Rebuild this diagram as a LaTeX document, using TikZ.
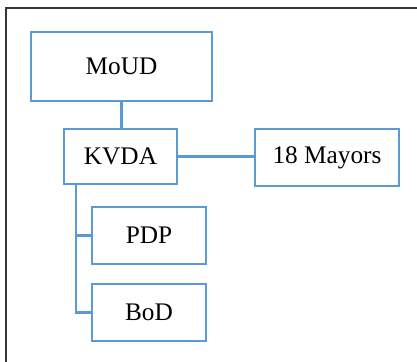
\documentclass[tikz,border=0pt]{standalone}
\usepackage{fontspec}
\setmainfont{Liberation Serif}
\usepackage{xcolor}
\usetikzlibrary{positioning}
\definecolor{boxblue}{RGB}{91,155,213}
\definecolor{framegray}{RGB}{55,55,55}

\begin{document}
\begin{tikzpicture}[x=0.025cm, y=-0.025cm,
    orgbox/.style={draw=boxblue, line width=2pt, fill=white, inner sep=0pt,
      font=\fontsize{18}{21}\selectfont},
    link/.style={draw=boxblue, line width=2pt}]
    \useasboundingbox (0,0) rectangle (417,362);
    % frame of the figure
    \draw[framegray, line width=1.5pt] (417,8) -- (6,8) -- (6,362);
    % boxes
    \node[orgbox, minimum width=4.525cm, minimum height=1.725cm] (moud) at (121.5,66.5) {MoUD};
    \node[orgbox, minimum width=2.825cm, minimum height=1.375cm] (kvda) at (120.5,156.5) {KVDA};
    \node[orgbox, minimum width=3.6cm, minimum height=1.425cm] (mayors) at (327,157.5) {18 Mayors};
    \node[orgbox, minimum width=2.85cm, minimum height=1.425cm] (pdp) at (149,235.5) {PDP};
    \node[orgbox, minimum width=2.85cm, minimum height=1.425cm] (bod) at (149,312.5) {BoD};
    \coordinate (trunk) at (76,184);
    % links
    \draw[link] (moud) -- (moud.south |- kvda.north);
    \draw[link] (kvda.east) -- (kvda.east -| mayors.west);
    \draw[link] (trunk) |- (pdp.west);
    \draw[link] (trunk) |- (bod.west);
  \end{tikzpicture}
\end{document}
